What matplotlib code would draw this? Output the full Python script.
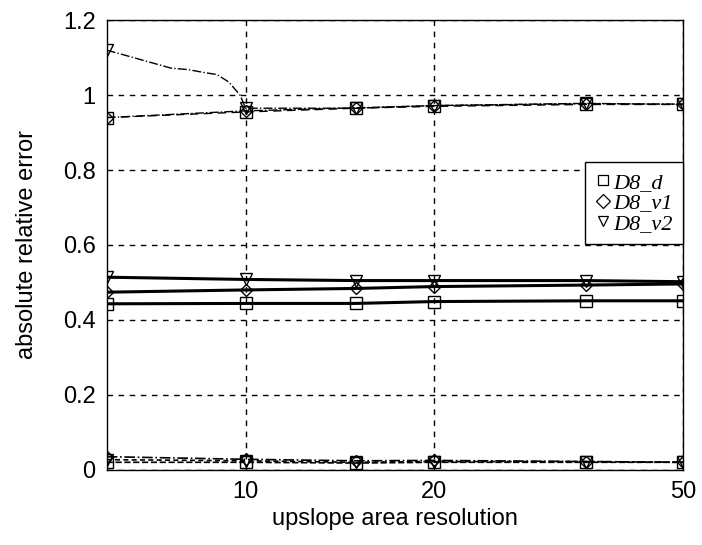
import matplotlib

matplotlib.use("Agg")
import matplotlib.pyplot as plt
from matplotlib.lines import Line2D
from matplotlib.ticker import FixedLocator, NullLocator, FixedFormatter

# upslope area resolution (marker positions)
res = [6, 10, 15, 20, 35, 50]

# upper group (dash-dot lines)
top_x_v2 = [6, 6.4, 7.6, 8.1, 8.6, 9.0, 9.4, 9.8, 10, 15, 20, 35, 50]
top_v2 = [1.12, 1.107, 1.072, 1.068, 1.06, 1.055, 1.035, 1.0, 0.965, 0.965, 0.972, 0.978, 0.975]
top_v2_marks = [0, 8, 9, 10, 11, 12]
top_d = [0.94, 0.955, 0.965, 0.97, 0.975, 0.975]
top_v1 = [0.94, 0.958, 0.966, 0.972, 0.977, 0.976]

# middle group (solid lines)
mid_d = [0.443, 0.444, 0.444, 0.449, 0.451, 0.451]
mid_v1 = [0.474, 0.48, 0.484, 0.489, 0.493, 0.496]
mid_v2 = [0.514, 0.508, 0.505, 0.505, 0.505, 0.502]

# lower group (dashed lines)
low_d = [0.02, 0.02, 0.018, 0.02, 0.02, 0.02]
low_v1 = [0.035, 0.028, 0.024, 0.025, 0.022, 0.02]
low_v2 = [0.027, 0.024, 0.02, 0.022, 0.022, 0.02]

labels = ["D8_d", "D8_v1", "D8_v2"]
markers = ["s", "D", "v"]

yticks = [0, 0.2, 0.4, 0.6, 0.8, 1.0, 1.2]
ytick_labels = ["0", "0.2", "0.4", "0.6", "0.8", "1", "1.2"]
xticks = [10, 20, 50]

plt.rcParams["font.family"] = ["Liberation Sans", "DejaVu Sans"]

fig = plt.figure(figsize=(7.02, 5.45), dpi=100)
ax = fig.add_axes([0.152, 0.138, 0.821, 0.825])

mk = dict(color="black", markerfacecolor="none", markeredgecolor="black",
          markeredgewidth=1.0)
ms = {"s": 8, "D": 6.5, "v": 8.5}

# upper group
ax.plot(res, top_d, linestyle=(0, (6, 4)), linewidth=1.0, marker="s", markersize=ms["s"], **mk)
ax.plot(res, top_v1, linestyle="-.", linewidth=1.0, marker="D", markersize=ms["D"], **mk)
ax.plot(top_x_v2, top_v2, linestyle="-.", linewidth=1.0, marker="v", markevery=top_v2_marks,
        markersize=ms["v"], **mk)

# middle group
for vals, m in zip([mid_d, mid_v1, mid_v2], markers):
    ax.plot(res, vals, linestyle="-", linewidth=2.2, marker=m, markersize=ms[m], **mk)

# lower group
for vals, m, ls in zip([low_d, low_v1, low_v2], markers, ["--", "-.", (0, (3, 2))]):
    ax.plot(res, vals, linestyle=ls, linewidth=1.2, marker=m, markersize=ms[m], **mk)

ax.set_xscale("log")
ax.set_xlim(6, 50)
ax.set_ylim(0, 1.2)
ax.xaxis.set_major_locator(FixedLocator(xticks))
ax.xaxis.set_major_formatter(FixedFormatter([str(t) for t in xticks]))
ax.xaxis.set_minor_locator(NullLocator())
ax.set_yticks(yticks)
ax.set_yticklabels(ytick_labels)
ax.tick_params(direction="in", length=0, labelsize=17, pad=8)

ax.grid(True, which="major", color="black", linestyle=(0, (4, 4)), linewidth=1.0)
for s in ax.spines.values():
    s.set_linewidth(1.0)

ax.set_xlabel("upslope area resolution", fontsize=17, labelpad=4)
ax.set_ylabel("absolute relative error", fontsize=17, labelpad=18)

handles = [Line2D([], [], linestyle="none", marker=m, markerfacecolor="none",
                  markeredgecolor="black", markeredgewidth=0.9, markersize=7)
           for m in markers]
leg = ax.legend(handles, labels, loc="upper right", bbox_to_anchor=(1.0, 0.684),
                borderaxespad=0, handlelength=0.7, handletextpad=0.15,
                labelspacing=0.0, borderpad=0.45, fancybox=False, framealpha=1,
                prop={"family": "Liberation Serif", "style": "italic", "size": 16})
leg.get_frame().set_edgecolor("black")
leg.get_frame().set_linewidth(1.0)

fig.savefig("out.png", dpi=100)
